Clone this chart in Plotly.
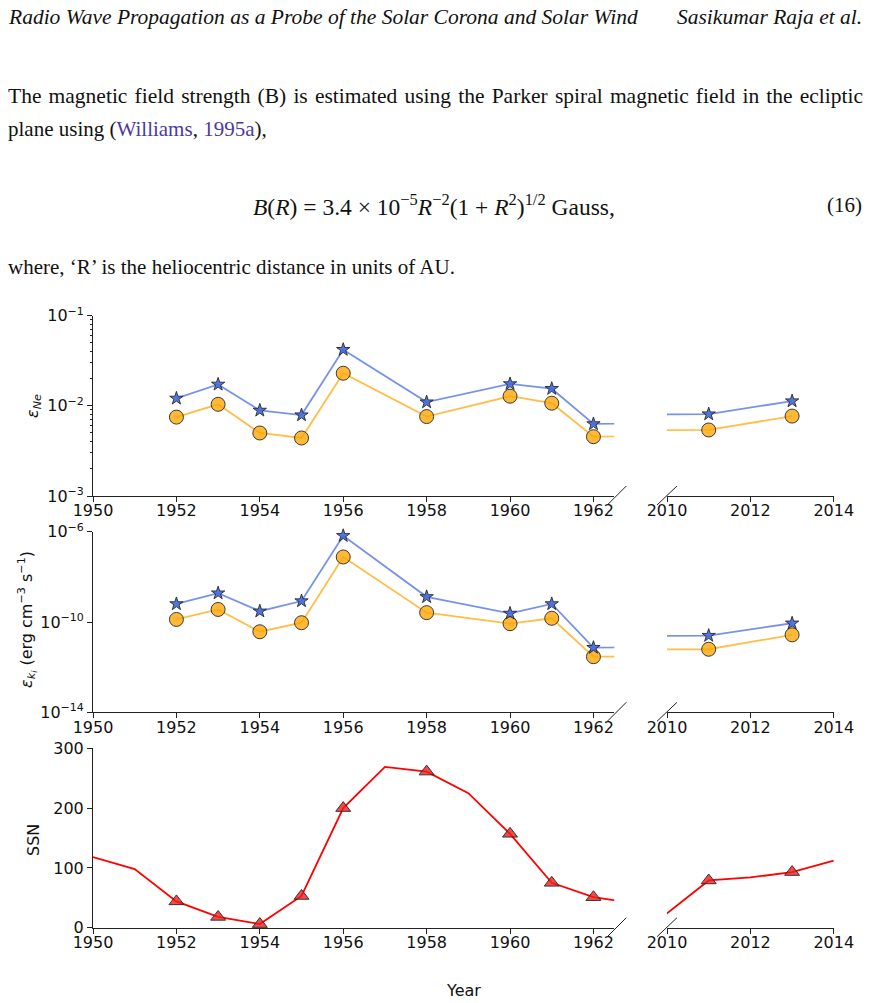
import plotly.graph_objects as go

# ---------------- data ----------------
obs_years = [1952, 1953, 1954, 1955, 1956, 1958, 1960, 1961, 1962, 2011, 2013]
eps_ne_star = [0.0121, 0.0173, 0.0089, 0.0079, 0.0420, 0.0110, 0.0175, 0.0155, 0.0063, 0.0081, 0.0113]
eps_ne_circle = [0.0075, 0.0104, 0.0050, 0.0044, 0.0230, 0.0076, 0.0128, 0.0107, 0.00455, 0.0054, 0.0077]
eps_ki_star = [6.3e-10, 1.9e-9, 3.0e-10, 8.5e-10, 6.6e-7, 1.3e-9, 2.4e-10, 6.3e-10, 7.3e-12, 2.5e-11, 8.8e-11]
eps_ki_circle = [1.3e-10, 3.6e-10, 3.7e-11, 9.3e-11, 7.6e-8, 2.6e-10, 8.4e-11, 1.46e-10, 2.9e-12, 6.2e-12, 2.7e-11]

ssn_years = [1950, 1951, 1952, 1953, 1954, 1955, 1956, 1957, 1958, 1959, 1960, 1961, 1962, 1963,
             2010, 2011, 2012, 2013, 2014]
ssn_values = [118, 98, 44, 18, 6, 53, 200, 269, 261, 225, 157, 75, 51, 41,
              24, 79, 84, 93, 112]

left_ticks = [1950, 1952, 1954, 1956, 1958, 1960, 1962]
right_ticks = [2010, 2012, 2014]
ne_exps = [-3, -2, -1]
ki_exps = [-14, -10, -6]
ssn_ticks = [0, 100, 200, 300]
left_range = [1950, 1962.5]
right_range = [2010, 2014]

# ---------------- layout helpers ----------------
W, H = 870, 1003
def px(x):
    return x / W
def py(y):
    return 1 - y / H

XL = [px(93), px(614.3)]
XR = [px(667), px(833.8)]
ROWS = [(315.7, 496.0), (531.7, 712.3), (748.3, 927.7)]

AX = "#222222"
TICKFONT = dict(family="DejaVu Sans", size=16, color="#111111")
BLUE_LINE = "rgba(65,105,225,0.72)"
BLUE_FILL = "rgba(65,105,225,0.9)"
ORANGE_LINE = "rgba(255,165,0,0.72)"
ORANGE_FILL = "rgba(255,165,0,0.78)"
EDGE = "rgba(40,40,40,0.9)"

def pow_label(e):
    return f"10<sup><span style='font-size:11px'>−{abs(e)}</span></sup>"

fig = go.Figure()

ssn_map = dict(zip(ssn_years, ssn_values))
ssn_obs = [ssn_map[y] for y in obs_years]

def split(xs, ys, lo, hi):
    px_, py_ = [], []
    for a, b in zip(xs, ys):
        if lo <= a <= hi:
            px_.append(a)
            py_.append(b)
    return px_, py_

for row in range(3):
    for side in range(2):
        idx = row * 2 + side + 1
        xa = "x" if idx == 1 else f"x{idx}"
        ya = "y" if idx == 1 else f"y{idx}"
        rng = left_range if side == 0 else right_range
        if row < 2:
            series = [(eps_ne_circle if row == 0 else eps_ki_circle, ORANGE_LINE, ORANGE_FILL, "circle", 14),
                      (eps_ne_star if row == 0 else eps_ki_star, BLUE_LINE, BLUE_FILL, "star", 10)]
            for vals, lc, fc, sym, sz in series:
                fig.add_trace(go.Scatter(x=obs_years, y=vals, mode="lines",
                                         line=dict(color=lc, width=1.8),
                                         xaxis=xa, yaxis=ya, showlegend=False, hoverinfo="skip"))
            for vals, lc, fc, sym, sz in series:
                mx, my = split(obs_years, vals, rng[0], rng[1])
                fig.add_trace(go.Scatter(x=mx, y=my, mode="markers",
                                         marker=dict(symbol=sym, size=sz, color=fc,
                                                     line=dict(color=EDGE, width=1)),
                                         cliponaxis=False,
                                         xaxis=xa, yaxis=ya, showlegend=False))
        else:
            fig.add_trace(go.Scatter(x=ssn_years, y=ssn_values, mode="lines",
                                     line=dict(color="#ff0000", width=1.8),
                                     xaxis=xa, yaxis=ya, showlegend=False, hoverinfo="skip"))
            mx, my = split(obs_years, ssn_obs, rng[0], rng[1])
            fig.add_trace(go.Scatter(x=mx, y=my, mode="markers",
                                     marker=dict(symbol="triangle-up", size=13,
                                                 color="rgba(240,30,30,0.8)",
                                                 line=dict(color=EDGE, width=1)),
                                     cliponaxis=False,
                                     xaxis=xa, yaxis=ya, showlegend=False))

layout = dict(
    width=W, height=H,
    margin=dict(l=0, r=0, t=0, b=0, autoexpand=False),
    paper_bgcolor="white", plot_bgcolor="white",
    showlegend=False,
)

for row in range(3):
    top, bot = ROWS[row]
    ydom = [py(bot), py(top)]
    for side in range(2):
        idx = row * 2 + side + 1
        xkey = "xaxis" if idx == 1 else f"xaxis{idx}"
        ykey = "yaxis" if idx == 1 else f"yaxis{idx}"
        yname = "y" if idx == 1 else f"y{idx}"
        xname = "x" if idx == 1 else f"x{idx}"
        layout[xkey] = dict(
            domain=XL if side == 0 else XR,
            range=left_range if side == 0 else right_range,
            anchor=yname, automargin=False,
            tickmode="array",
            tickvals=left_ticks if side == 0 else right_ticks,
            ticktext=[str(t) for t in (left_ticks if side == 0 else right_ticks)],
            showline=True, linecolor=AX, linewidth=1,
            ticks="outside", ticklen=5, tickwidth=1, tickcolor=AX,
            ticklabelstandoff=-5,
            showgrid=False, zeroline=False,
            tickfont=TICKFONT,
        )
        yd = dict(domain=ydom, anchor=xname, showgrid=False, zeroline=False, automargin=False)
        if row == 0:
            yd.update(type="log", range=[-3, -1])
        elif row == 1:
            yd.update(type="log", range=[-14, -6])
        else:
            yd.update(range=[0, 300])
        if side == 0:
            yd.update(showline=True, linecolor=AX, linewidth=1,
                      ticks="outside", ticklen=5, tickwidth=1, tickcolor=AX,
                      tickfont=TICKFONT)
            if row == 0:
                yd.update(tickmode="array", tickvals=[10.0 ** e for e in ne_exps],
                          ticktext=[pow_label(e) for e in ne_exps],
                          minor=dict(ticks="outside", ticklen=2.5, tickcolor=AX, showgrid=False,
                                     dtick="D1"))
            elif row == 1:
                yd.update(tickmode="array", tickvals=[10.0 ** e for e in ki_exps],
                          ticktext=[pow_label(e) for e in ki_exps])
            else:
                yd.update(tickmode="array", tickvals=ssn_ticks,
                          ticktext=[str(t) for t in ssn_ticks])
        else:
            yd.update(visible=False)
        layout[ykey] = yd

fig.update_layout(**layout)

# break marks
shapes = []
for row in range(3):
    top, bot = ROWS[row]
    hgt = bot - top
    idxL = row * 2 + 1
    idxR = row * 2 + 2
    xl = "x" if idxL == 1 else f"x{idxL}"
    yl = "y" if idxL == 1 else f"y{idxL}"
    xr = f"x{idxR}"
    yr = f"y{idxR}"
    wl = 614.3 - 93
    wr = 833.8 - 667
    shapes.append(dict(type="line", xref=f"{xl} domain", yref=f"{yl} domain",
                       x0=1 - 7 / wl, x1=1 + 12 / wl, y0=-9 / hgt, y1=10 / hgt,
                       line=dict(color=AX, width=1)))
    shapes.append(dict(type="line", xref=f"{xr} domain", yref=f"{yr} domain",
                       x0=-10 / wr, x1=10 / wr, y0=-9 / hgt, y1=10 / hgt,
                       line=dict(color=AX, width=1)))
fig.update_layout(shapes=shapes)

LBL = dict(family="DejaVu Sans", size=16, color="#111111")
SERIF = "Liberation Serif"
TXT = dict(family=SERIF, size=21, color="#111111")
HS = "\u200a"
line1_words = "The magnetic field strength (B) is estimated using the Parker spiral magnetic field in the ecliptic".split(" ")
line1 = (" " + HS).join(line1_words)
ann = [
    dict(x=px(33), y=py(406), text="<i>ε</i><sub><i>Ne</i></sub>", textangle=-90,
         font=LBL, xanchor="center", yanchor="middle"),
    dict(x=px(27), y=py(620),
         text="<i>ε</i><sub><i>k<sub>i</sub></i></sub> (erg cm<sup>−3</sup> s<sup>−1</sup>)",
         textangle=-90, font=LBL, xanchor="center", yanchor="middle"),
    dict(x=px(33), y=py(840), text="SSN", textangle=-90, font=LBL,
         xanchor="center", yanchor="middle"),
    dict(x=px(463), y=py(990), text="Year", font=LBL, xanchor="center", yanchor="middle"),
    # page text
    dict(x=px(6), y=py(17), text="<i>Radio Wave Propagation as a Probe of the Solar Corona and Solar Wind</i>",
         font=dict(family=SERIF, size=21.5, color="#111111"), xanchor="left", yanchor="middle"),
    dict(x=px(864), y=py(17), text="<i>Sasikumar Raja et al.</i>",
         font=dict(family=SERIF, size=21.5, color="#111111"), xanchor="right", yanchor="middle"),
    dict(x=px(6), y=py(96), text=line1,
         font=dict(family=SERIF, size=21.5, color="#111111"), xanchor="left", yanchor="middle"),
    dict(x=px(6), y=py(129),
         text="plane using (<span style='color:#4a3a9c'>Williams</span>, <span style='color:#4a3a9c'>1995a</span>),",
         font=TXT, xanchor="left", yanchor="middle"),
    dict(x=px(251), y=py(205),
         text="<i>B</i>(<i>R</i>) = 3.4 × 10<sup>−5</sup><i>R</i><sup>−2</sup>(1 + <i>R</i><sup>2</sup>)<sup>1/2</sup> Gauss,",
         font=dict(family=SERIF, size=23.5, color="#111111"), xanchor="left", yanchor="middle"),
    dict(x=px(864), y=py(205), text="(16)",
         font=TXT, xanchor="right", yanchor="middle"),
    dict(x=px(6), y=py(267), text="where, ‘R’ is the heliocentric distance in units of AU.",
         font=TXT, xanchor="left", yanchor="middle"),
]
for a in ann:
    a.update(xref="paper", yref="paper", showarrow=False)
fig.update_layout(annotations=ann)

fig.write_html("out.html")
